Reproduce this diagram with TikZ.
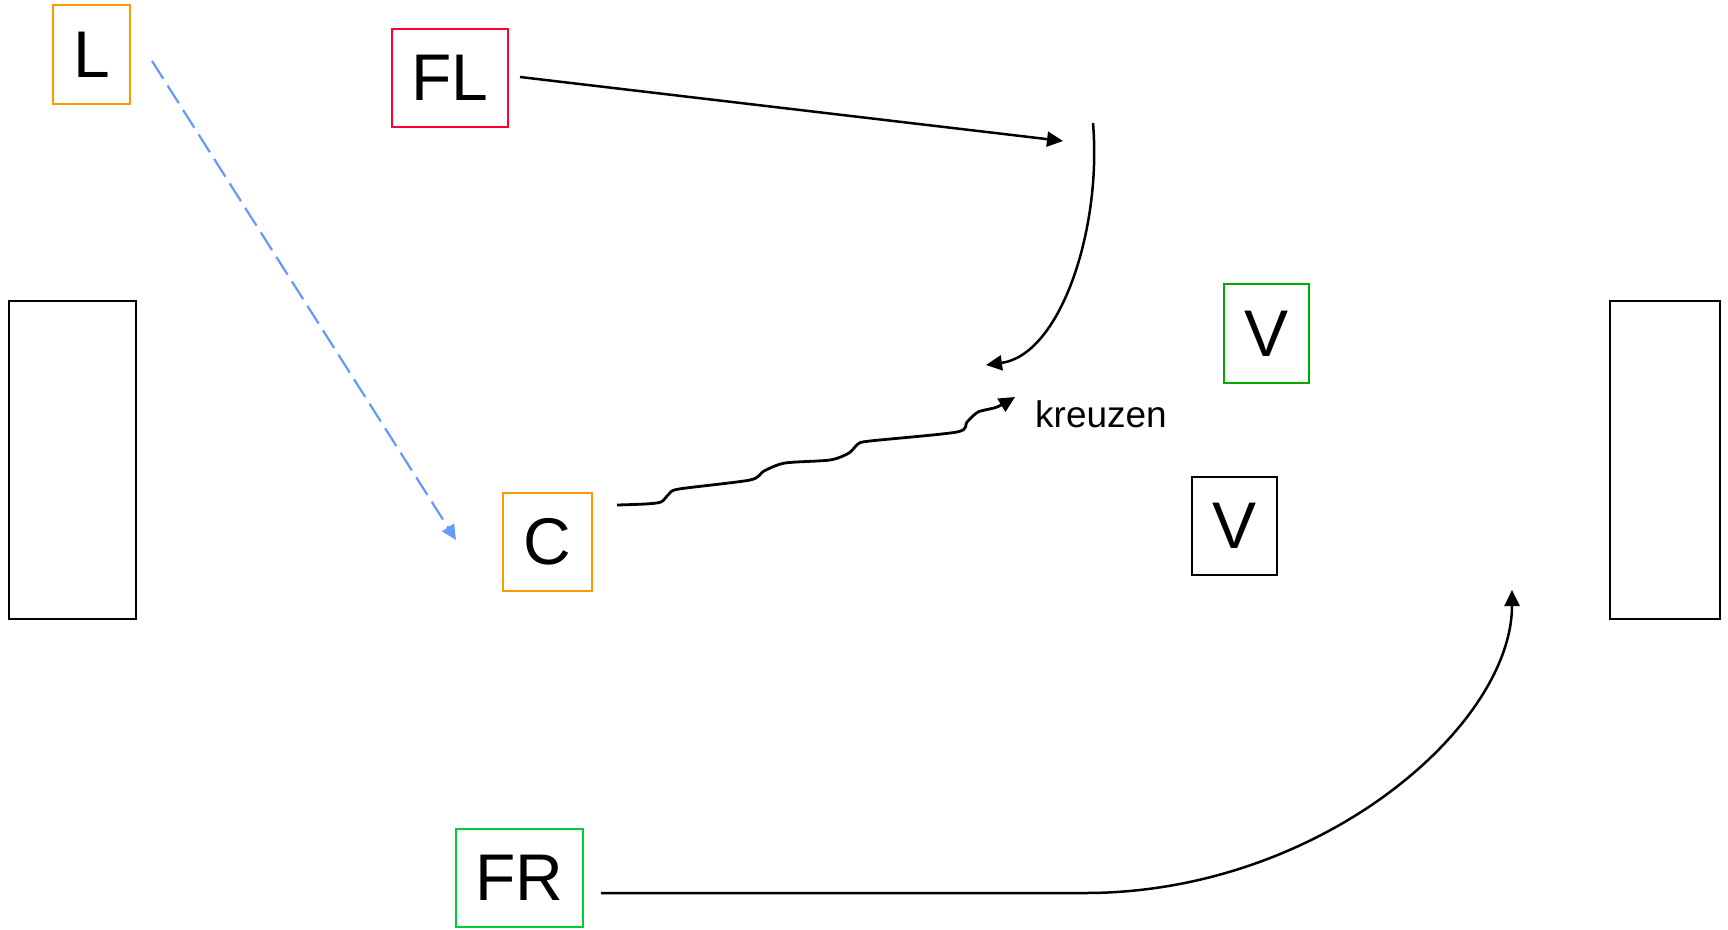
\documentclass[tikz,border=0pt]{standalone}
\usepackage{fontspec}
\setmainfont{Liberation Sans}
\usetikzlibrary{arrows.meta}
\definecolor{orng}{HTML}{FF9900}
\definecolor{redb}{HTML}{FF0033}
\definecolor{grnv}{HTML}{00AA00}
\definecolor{grnf}{HTML}{00CC33}
\definecolor{blued}{HTML}{6699FF}
\begin{document}
\begin{tikzpicture}[x=1pt,y=-1pt,
  box/.style={draw, line width=2.2pt, inner sep=0pt, font=\fontsize{66}{70}\selectfont},
  wall/.style={draw, line width=2.2pt, inner sep=0pt},
  arrowtip/.style={-{Triangle[length=16pt,width=15pt]}},
  conn/.style={line width=2.5pt, arrowtip},
  lbl/.style={font=\fontsize{37}{40}\selectfont, inner sep=0pt}]
\useasboundingbox (0,0) rectangle (1728,929);
% boxes
\node[box, draw=orng, minimum width=77pt, minimum height=99pt] (L) at (91.5,54.5) {L};
\node[box, draw=redb, minimum width=116pt, minimum height=98pt] (FL) at (450,78) {FL};
\node[box, draw=orng, minimum width=89pt, minimum height=98pt] (C) at (547.5,542) {C};
\node[box, draw=grnf, minimum width=127pt, minimum height=98pt] (FR) at (519.5,878) {FR};
\node[box, draw=grnv, minimum width=85pt, minimum height=99pt] (V1) at (1266.5,333.5) {V};
\node[box, draw=black, minimum width=85pt, minimum height=98pt] (V2) at (1234.5,526) {V};
\node[wall, minimum width=127pt, minimum height=318pt] (W1) at (72.5,460) {};
\node[wall, minimum width=110pt, minimum height=318pt] (W2) at (1665,460) {};
\node[lbl] (K) at (1101,414) {kreuzen};
% connector end points
\coordinate (a1) at (152,61);
\coordinate (a2) at (456,540);
\coordinate (b1) at (520,77);
\coordinate (b2) at (1063,141);
\coordinate (c1) at (1093,123);
\coordinate (c2) at (986,365);
\coordinate (d1) at (617,505);
\coordinate (d2) at (1015,397);
\coordinate (e1) at (601,893);
\coordinate (e2) at (1085,893);
\coordinate (e3) at (1512,590);
% connectors
\draw[line width=2.2pt, blued, dash pattern=on 21pt off 8pt, -{Triangle[length=15pt,width=14pt]}] (a1) -- (a2);
\draw[conn] (b1) -- (b2);
\draw[conn] (c1) .. controls (1102,230) and (1060,355) .. (c2);
\draw[conn, line width=2.8pt] plot[smooth, tension=0.45] coordinates {(d1) (645,504) (661,502) (669,494) (679,489) (750,480) (764,471) (785,463) (830,460) (849,453) (858,444) (870,441) (957,432) (967,422) (978,412) (997,407) (d2)};
\draw[conn] (e1) -- (e2) .. controls (1320,893) and (1512,726) .. (e3);
\end{tikzpicture}
\end{document}
